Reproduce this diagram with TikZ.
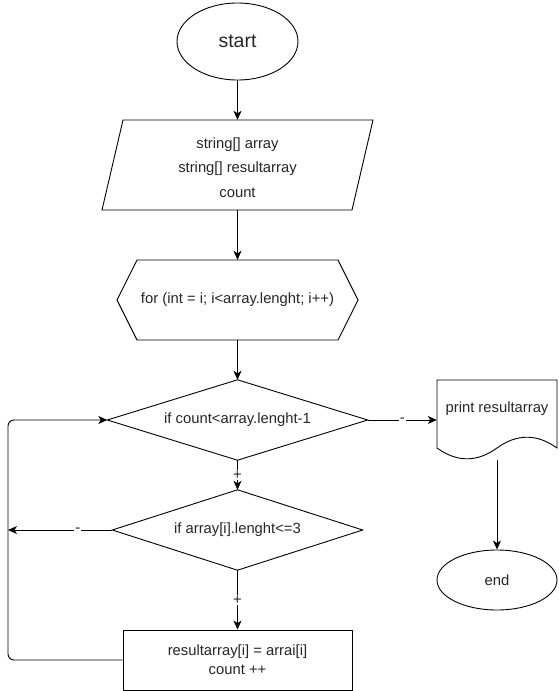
\documentclass[tikz,border=0pt]{standalone}
\usepackage{fontspec}
\setmainfont{Liberation Sans}
\usetikzlibrary{shapes.geometric,arrows.meta}
\begin{document}
\begin{tikzpicture}[x=1pt,y=-1pt,
  every node/.style={font=\fontsize{14.8}{17}\selectfont, text=black!85, inner sep=0pt},
  shp/.style={draw=black, line width=0.9pt},
  arr/.style={draw=black, line width=0.9pt, -{Stealth[length=9pt,width=8pt,inset=2.5pt]}},
  lbl/.style={fill=white, inner sep=1pt},
]
\useasboundingbox (0,0) rectangle (558,691);
\fill[white] (0,0) rectangle (558,691);

% start
\node[shp, ellipse, minimum width=121pt, minimum height=77pt, font=\fontsize{19.5}{22}\selectfont] (start) at (237.5,41.5) {start};

% parallelogram
\draw[shp] (123,120) -- (373,120) -- (352,210) -- (102,210) -- cycle;
\node[draw=none, minimum width=250pt, minimum height=90pt] (par) at (237.5,165) {};
\node (p1) at (237.5,145) {string[] array};
\node (p2) at (237.5,169) {string[] resultarray};
\node (p3) at (237.5,193) {count};

% hexagon
\draw[shp] (137,260) -- (338,260) -- (358,300) -- (338,340) -- (137,340) -- (117,300) -- cycle;
\node[draw=none, minimum width=241pt, minimum height=80pt] (hex) at (237.5,300) {for (int = i; i<array.lenght; i++)};

% decision 1
\node[draw=none, minimum width=260pt, minimum height=80pt] (d1) at (237.5,420) {if count<array.lenght-1};
\draw[shp] (d1.north) -- (d1.east) -- (d1.south) -- (d1.west) -- cycle;

% decision 2
\node[draw=none, minimum width=250pt, minimum height=80pt] (d2) at (237.5,530) {if array[i].lenght<=3};
\draw[shp] (d2.north) -- (d2.east) -- (d2.south) -- (d2.west) -- cycle;

% process
\node[shp, rectangle, minimum width=229pt, minimum height=60pt, align=center] (proc) at (237.5,660) {resultarray[i] = arrai[i]\\[2pt]count ++};

% document
\draw[shp] (437,380) -- (557,380) -- (557,448)
  .. controls (537,433.6) and (517,433.6) .. (497,448)
  .. controls (477,462.4) and (457,462.4) .. (437,448) -- cycle;
\node[draw=none, minimum width=120pt, minimum height=80pt] (doc) at (497,420) {};
\node (doct) at (497,409) {print resultarray};

% end
\node[shp, ellipse, minimum width=120pt, minimum height=60pt] (end) at (497,580) {end};

% loop guide
\coordinate (lx) at (8,0);

% connectors
\draw[arr] (start.south) -- (par.north);
\draw[arr] (par.south) -- (hex.north);
\draw[arr] (hex.south) -- (d1.north);
\draw[arr] (d1.east) -- node[lbl, pos=0.5] {-} (doc.west);
\draw[arr] (doc.south) -- (end.north);
\draw[arr] (d1.south) -- node[lbl, pos=0.5] {+} (d2.north);
\draw[arr] (d2.south) -- node[lbl, pos=0.5] {+} (proc.north);
\draw[arr] (d2.west) -- node[lbl, pos=0.33] {-} (d2.west -| lx);
\draw[arr, rounded corners=6pt] (proc.west) -- (proc.west -| lx) -- (d1.west -| lx) -- (d1.west);
\end{tikzpicture}
\end{document}
